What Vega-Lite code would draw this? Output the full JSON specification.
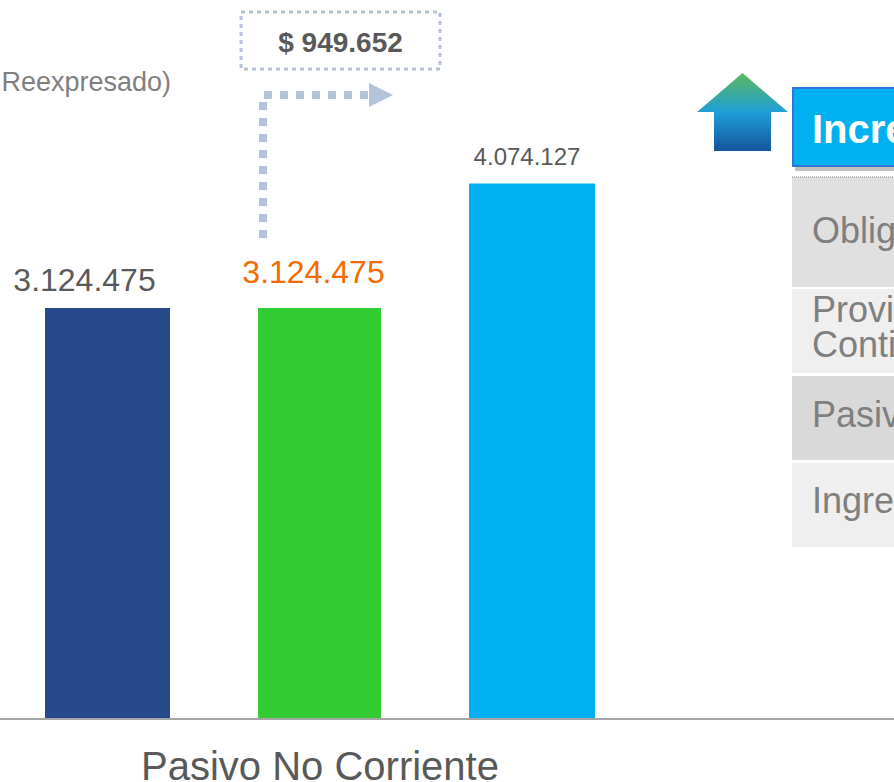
{"$schema":"https://vega.github.io/schema/vega-lite/v6.json","width":894,"height":782,"padding":0,"autosize":{"type":"none"},"background":"white","view":{"stroke":null},
"config":{"text":{"font":"Liberation Sans"},"axis":{"grid":false}},
"encoding":{"x":{"field":"x","type":"quantitative","scale":{"domain":[0,894],"nice":false,"zero":false},"axis":null},"y":{"field":"y","type":"quantitative","scale":{"domain":[782,0],"nice":false,"zero":false},"axis":null}},
"resolve":{"scale":{"y":"independent","color":"independent"}},
"layer":[
{"data":{"values":[{"serie":"A","x":45,"x2":170,"valor":3124475},{"serie":"B","x":258,"x2":381,"valor":3124475},{"serie":"C","x":469,"x2":595,"valor":4074127}]},"mark":{"type":"rect"},"encoding":{"x2":{"field":"x2"},"y":{"field":"valor","type":"quantitative","scale":{"domain":[-487727,5471700],"nice":false,"zero":false},"axis":null},"y2":{"datum":0},"color":{"field":"serie","type":"nominal","scale":{"domain":["A","B","C"],"range":["#264a8c","#33cc33","#00b0f0"]},"legend":null}}},
{"data":{"values":[{"x":0,"x2":894,"y":719}]},"mark":{"type":"rule","color":"#a6a6a6","strokeWidth":2},"encoding":{"x2":{"field":"x2"}}},
{"data":{"values":[{"fila":"1","x":792,"x2":894,"y":177,"y2":287},{"fila":"2","x":792,"x2":894,"y":289,"y2":373},{"fila":"3","x":792,"x2":894,"y":376,"y2":460},{"fila":"4","x":792,"x2":894,"y":463,"y2":547}]},"mark":{"type":"rect"},"encoding":{"x2":{"field":"x2"},"y2":{"field":"y2"},"color":{"field":"fila","type":"nominal","scale":{"domain":["1","2","3","4"],"range":["#e0e0e0","#efefef","#d9d9d9","#efefef"]},"legend":null}}},
{"data":{"values":[{"x":792,"x2":894,"y":177}]},"mark":{"type":"rule","color":"#7f7f7f","strokeWidth":1,"strokeDash":[1,1]},"encoding":{"x2":{"field":"x2"}}},
{"data":{"values":[{"x":795,"x2":900,"y":90,"y2":171}]},"mark":{"type":"rect","color":"#8c8c8c","opacity":0.55},"encoding":{"x2":{"field":"x2"},"y2":{"field":"y2"}}},
{"data":{"values":[{"x":793,"x2":900,"y":88,"y2":166}]},"mark":{"type":"rect","fill":"#00b0f0","stroke":"#2e75d6","strokeWidth":2},"encoding":{"x2":{"field":"x2"},"y2":{"field":"y2"}}},
{"data":{"values":[{"o":1,"x":697,"y":112,"y2":112},{"o":2,"x":714,"y":97.5,"y2":112},{"o":3,"x":714.01,"y":97.5,"y2":151},{"o":4,"x":742.5,"y":73,"y2":151},{"o":5,"x":771,"y":97.5,"y2":151},{"o":6,"x":771.01,"y":97.5,"y2":112},{"o":7,"x":788,"y":112,"y2":112}]},"mark":{"type":"area","line":false,"color":{"gradient":"linear","x1":0,"y1":0,"x2":0,"y2":1,"stops":[{"offset":0,"color":"#5cb85c"},{"offset":0.5,"color":"#1f9fd8"},{"offset":1,"color":"#14559c"}]}},"encoding":{"y2":{"field":"y2"}}},
{"data":{"values":[{"x":241,"x2":440,"y":12,"y2":69}]},"mark":{"type":"rect","fill":"white","stroke":"#b4c3d9","strokeWidth":3,"strokeDash":[4,4]},"encoding":{"x2":{"field":"x2"},"y2":{"field":"y2"}}},
{"data":{"values":[{"o":1,"x":263,"y":238},{"o":2,"x":263,"y":95},{"o":3,"x":370,"y":95}]},"mark":{"type":"line","color":"#b4c3d9","strokeWidth":8,"strokeDash":[8,8],"strokeCap":"butt"},"encoding":{"order":{"field":"o"}}},
{"data":{"values":[{"x":369,"y":83,"y2":107},{"x":393,"y":95,"y2":95}]},"mark":{"type":"area","color":"#b4c3d9"},"encoding":{"y2":{"field":"y2"}}},
{"data":{"values":[{"x":340.5,"y":52,"t":"$ 949.652"}]},"mark":{"type":"text","fontSize":28,"fontWeight":"bold","color":"#595959","align":"center","baseline":"alphabetic"},"encoding":{"text":{"field":"t"}}},
{"data":{"values":[{"x":171,"y":91,"t":"Reexpresado)"}]},"mark":{"type":"text","fontSize":27,"color":"#7f7f7f","align":"right","baseline":"alphabetic"},"encoding":{"text":{"field":"t"}}},
{"data":{"values":[{"x":84.5,"y":291,"t":"3.124.475"}]},"mark":{"type":"text","fontSize":32,"color":"#595959","align":"center","baseline":"alphabetic"},"encoding":{"text":{"field":"t"}}},
{"data":{"values":[{"x":313.5,"y":283,"t":"3.124.475"}]},"mark":{"type":"text","fontSize":32,"color":"#f26a00","align":"center","baseline":"alphabetic"},"encoding":{"text":{"field":"t"}}},
{"data":{"values":[{"x":527,"y":165,"t":"4.074.127"}]},"mark":{"type":"text","fontSize":24,"color":"#595959","align":"center","baseline":"alphabetic"},"encoding":{"text":{"field":"t"}}},
{"data":{"values":[{"x":320,"y":780,"t":"Pasivo No Corriente"}]},"mark":{"type":"text","fontSize":40,"color":"#595959","align":"center","baseline":"alphabetic"},"encoding":{"text":{"field":"t"}}},
{"data":{"values":[{"x":812,"y":143,"t":"Incre"}]},"mark":{"type":"text","fontSize":40,"fontWeight":"bold","color":"white","align":"left","baseline":"alphabetic"},"encoding":{"text":{"field":"t"}}},
{"data":{"values":[{"x":812,"y":243,"t":"Oblig"},{"x":812,"y":322,"t":"Provi"},{"x":812,"y":357,"t":"Conti"},{"x":812,"y":427,"t":"Pasiv"},{"x":812,"y":513,"t":"Ingre"}]},"mark":{"type":"text","fontSize":36,"color":"#7f7f7f","align":"left","baseline":"alphabetic"},"encoding":{"text":{"field":"t"}}}
]}
